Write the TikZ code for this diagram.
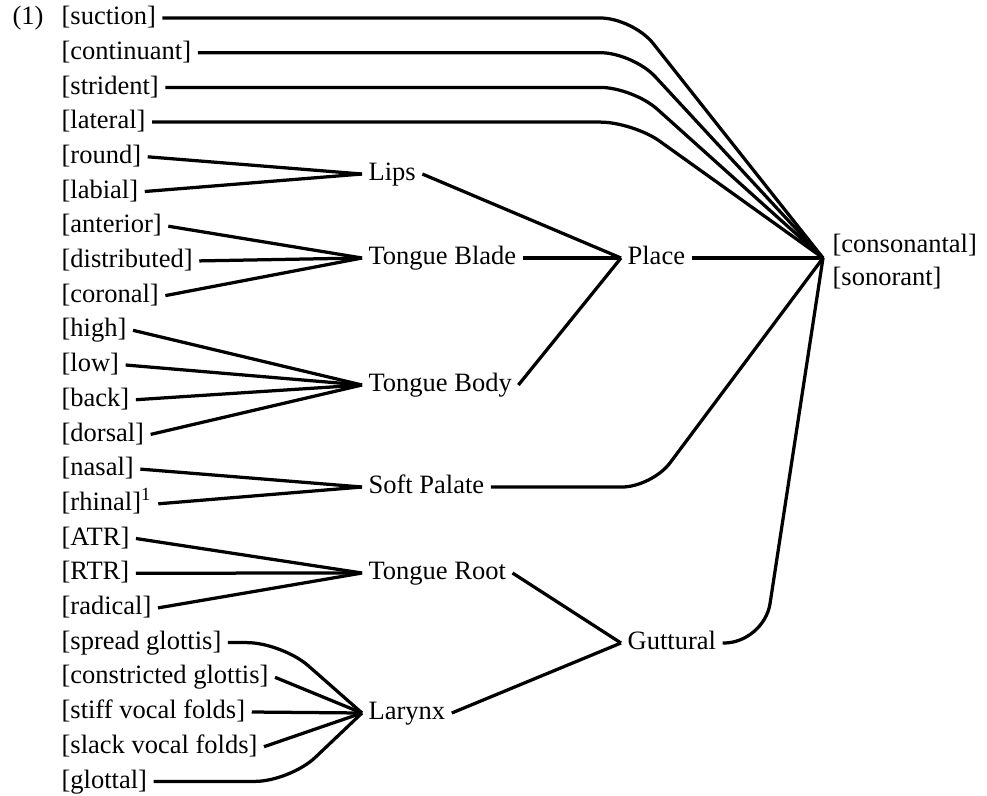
\documentclass[tikz,border=0pt]{standalone}
\usepackage{fontspec}
\setmainfont{Liberation Serif}
\usepackage{tikz}
\usetikzlibrary{positioning}

\begin{document}
\begin{tikzpicture}[x=0.4pt, y=-0.4pt, line width=1.3pt,
    every node/.style={inner sep=2pt, font=\fontsize{10.6}{13.2}\selectfont},
    feat/.style={anchor=west, text height=1.6ex, text depth=0.45ex}]

    \useasboundingbox (0,0) rectangle (987,795);

    \node [feat] (num) at (6,18) {(1)};

    % terminal features, one row each
    \foreach \m/\l [count=\y from 0] in {suction/{[suction]}, continuant/{[continuant]},
        strident/{[strident]}, lateral/{[lateral]}, round/{[round]}, labial/{[labial]},
        anterior/{[anterior]}, distributed/{[distributed]}, coronal/{[coronal]},
        high/{[high]}, low/{[low]}, back/{[back]}, dorsal/{[dorsal]},
        nasal/{[nasal]}, rhinal/{[rhinal]\textsuperscript{1}},
        atr/{[ATR]}, rtr/{[RTR]}, radical/{[radical]},
        spread/{[spread glottis]}, constricted/{[constricted glottis]},
        stiff/{[stiff vocal folds]}, slack/{[slack vocal folds]}, glottal/{[glottal]}}
      \node [feat] (feat-\m) at (55,18+\y*34.7) {\l};

    % articulator nodes
    \foreach \m/\l/\y in {lips/Lips/174, blade/Tongue Blade/258, body/Tongue Body/385,
        soft/Soft Palate/487, root/Tongue Root/573, larynx/Larynx/713}
      \node [feat] (\m) at (362,\y) {\l};

    \node [feat] (place) at (621,258) {Place};
    \node [feat] (guttural) at (621,643) {Guttural};

    \coordinate (hub) at (823,258);
    \node [anchor=west, align=left] (root-node) at (826,262) {{[consonantal]}\\{[sonorant]}};

    \coordinate (top-bend) at (633,0);
    \coordinate (soft-bend) at (652,0);
    \coordinate (gutt-bend) at (764,0);
    \coordinate (spread-bend) at (282,0);
    \coordinate (glottal-bend) at (290,0);

    \foreach \m in {round,labial}
      \draw (feat-\m.east) -- (lips.west);
    \foreach \m in {anterior,distributed,coronal}
      \draw (feat-\m.east) -- (blade.west);
    \foreach \m in {high,low,back,dorsal}
      \draw (feat-\m.east) -- (body.west);
    \foreach \m in {nasal,rhinal}
      \draw (feat-\m.east) -- (soft.west);
    \foreach \m in {atr,rtr,radical}
      \draw (feat-\m.east) -- (root.west);
    \foreach \m in {constricted,stiff,slack}
      \draw (feat-\m.east) -- (larynx.west);
    \draw [rounded corners=14pt] (feat-spread.east) -- (feat-spread.east -| spread-bend) -- (larynx.west);
    \draw [rounded corners=14pt] (feat-glottal.east) -- (feat-glottal.east -| glottal-bend) -- (larynx.west);

    \foreach \m in {lips,blade,body}
      \draw (\m.east) -- (place.west);
    \foreach \m in {root,larynx}
      \draw (\m.east) -- (guttural.west);

    \foreach \m in {suction,continuant,strident,lateral}
      \draw [rounded corners=13pt] (feat-\m.east) -- (feat-\m.east -| top-bend) -- (hub);
    \draw (place.east) -- (hub);
    \draw [rounded corners=12pt] (soft.east) -- (soft.east -| soft-bend) -- (hub);
    \draw [rounded corners=16pt] (guttural.east) -- (guttural.east -| gutt-bend) -- (hub);

\end{tikzpicture}
\end{document}
